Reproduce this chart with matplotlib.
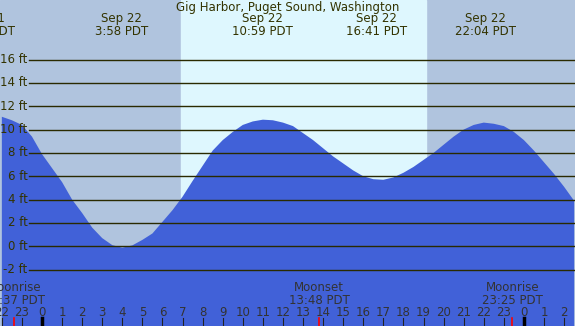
import numpy as np
import matplotlib.pyplot as plt

# hours relative to midnight Sep 22 (negative = Sep 21, >24 = Sep 23)
hours = np.arange(-2.0, 26.51, 0.5)
height = [11.1, 10.8, 10.4, 9.4, 7.9, 6.7, 5.5, 4.0, 2.85, 1.6,
          0.7, 0.1, -0.12, 0.08, 0.55, 1.1, 2.1, 3.1, 4.25, 5.6,
          6.9, 8.2, 9.1, 9.8, 10.4, 10.7, 10.85, 10.8, 10.6, 10.3,
          9.7, 9.1, 8.4, 7.7, 7.1, 6.5, 6.0, 5.75, 5.7, 5.9,
          6.3, 6.8, 7.4, 8.0, 8.7, 9.4, 10.0, 10.4, 10.6, 10.5,
          10.3, 9.8, 9.1, 8.2, 7.2, 6.2, 5.1, 3.9]

sunrise = 6.92
sunset = 19.12

tide_hours = [-2.85, 3.97, 10.98, 16.68, 22.07]
tide_labels = ['Sep 21\n21:09 PDT', 'Sep 22\n3:58 PDT', 'Sep 22\n10:59 PDT',
               'Sep 22\n16:41 PDT', 'Sep 22\n22:04 PDT']

moon_hours = [-1.38, 13.8, 23.42]
moon_labels = ['Moonrise\n22:37 PDT', 'Moonset\n13:48 PDT', 'Moonrise\n23:25 PDT']

grid_ft = list(range(-2, 17, 2))

txt = '#333300'
fs = 8.5
W, H = 575, 326
x0, pxh = 42, 20.08  # pixel of midnight, pixels per hour
xmin = (0 - x0) / pxh
xmax = (W - x0) / pxh

fig = plt.figure(figsize=(W / 100, H / 100), dpi=100)
ax = fig.add_axes([0, 0, 1, 1])
ax.set_xlim(xmin, xmax)
ax.set_ylim((246.3 - H) / 11.67, 246.3 / 11.67)
ax.axis('off')

# night / day background
ax.axvspan(xmin, xmax, color='#b0c4de', zorder=0)
ax.axvspan(sunrise, sunset, color='#def7fe', zorder=0)

ax.fill_between(hours, height, -20, color='#4161d8', lw=0, zorder=1)

# feet grid
gx = (29 - x0) / pxh
for ft in grid_ft:
    ax.plot([gx, xmax], [ft, ft], color='#2a2a00', lw=1.0, zorder=2)
    ax.text(gx - 0.08, ft, f'{ft} ft', ha='right', va='center',
            fontsize=fs, color=txt, zorder=3)

ax.text(0.5, 1 - 7 / H, 'Gig Harbor, Puget Sound, Washington', transform=ax.transAxes,
        ha='center', va='center', fontsize=fs, color=txt)

tr = ax.get_xaxis_transform()
for h, lab in zip(tide_hours, tide_labels):
    ax.text(h, 1 - 25 / H, lab, transform=tr, ha='center', va='center',
            fontsize=fs, color=txt, linespacing=0.95)

for h, lab in zip(moon_hours, moon_labels):
    ax.text(h, 1 - 294 / H, lab, transform=tr, ha='center', va='center',
            fontsize=fs, color='#333333', linespacing=0.95)
    ax.plot([h, h], [0, 8 / H], transform=tr, color='red', lw=1.2, zorder=4)

# hour ticks
for h in range(-2, 27):
    ax.text(h, 1 - 312 / H, str(h % 24), transform=tr, ha='center', va='center',
            fontsize=fs, color='#333333')
    if h % 24 == 0:
        ax.plot([h, h], [0, 8 / H], transform=tr, color='black', lw=2.5, zorder=4)
    else:
        ax.plot([h, h], [0, 8 / H], transform=tr, color='#222222', lw=0.8, zorder=4)

fig.savefig('out.png', dpi=100)
